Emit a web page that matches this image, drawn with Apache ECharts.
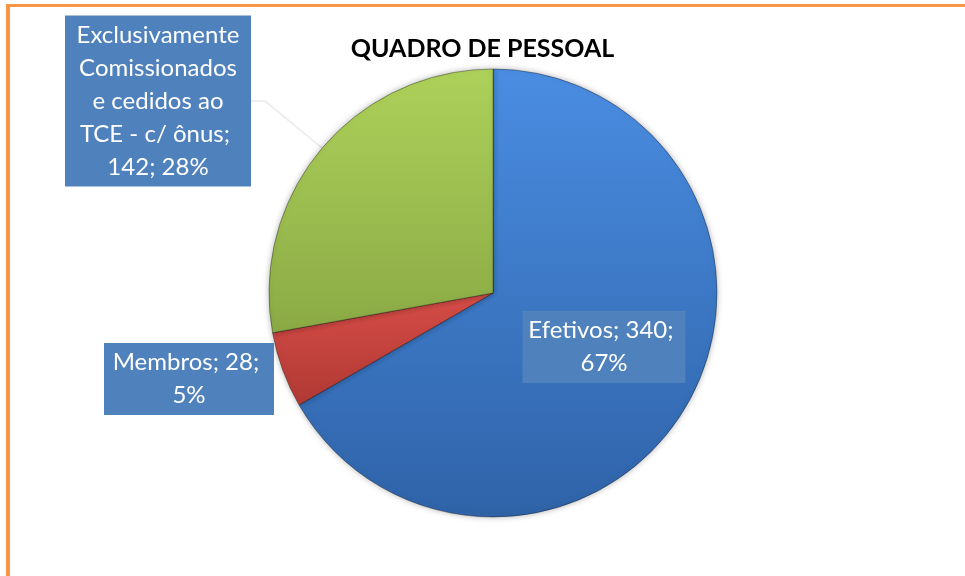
<!DOCTYPE html>
<html style="height: 100%">
<head>
    <meta charset="utf-8">
</head>
<body style="height: 100%; margin: 0; background: #fff">

<div style="position: absolute; left: 6px; top: 4px; right: 0; bottom: 0; border-top: 3px solid #F79646; border-left: 4px solid #F79646"></div>
<div id="container" style="position: absolute; left: 0; top: 0; width: 965px; height: 576px"></div>

<script type="text/javascript" src="https://cdn.jsdelivr.net/npm/echarts@6/dist/echarts.min.js"></script>
<script type="text/javascript">

    var categories = ['Efetivos', 'Membros', 'Exclusivamente\nComissionados\ne cedidos ao\nTCE - c/ ônus'];
    var values = [340, 28, 142];

    // gradient per slice: top colour, bottom colour
    var sliceColors = [
        ['#4A8DE2', '#2F63A8'],
        ['#D64D47', '#B13934'],
        ['#ADD15A', '#8BAA45']
    ];

    // label box centres and widths (pixels)
    var labelPos = [
        {x: 604, y: 347, w: 155},
        {x: 189, y: 379, w: 162},
        {x: 158, y: 101, w: 178}
    ];

    var myChart = echarts.init(document.getElementById('container'));

    var data = categories.map(function (name, i) {
        return {
            name: name,
            value: values[i],
            itemStyle: {
                color: new echarts.graphic.LinearGradient(0, 0, 0, 1, [
                    {offset: 0, color: sliceColors[i][0]},
                    {offset: 1, color: sliceColors[i][1]}
                ])
            },
            label: {
                position: i === 0 ? 'inside' : 'outside',
                width: labelPos[i].w
            },
            labelLine: {
                show: i === 2
            }
        };
    });

    var option = {
        title: {
            text: 'QUADRO DE PESSOAL',
            left: 'center',
            top: 31,
            textStyle: {
                fontFamily: 'Lato',
                fontWeight: 'bold',
                fontSize: 25,
                color: '#000'
            }
        },
        series: [
            {
                type: 'pie',
                center: [493, 293],
                radius: 224,
                startAngle: 90,
                clockwise: true,
                percentPrecision: 0,
                animation: false,
                silent: true,
                itemStyle: {
                    borderColor: 'rgba(0,0,0,0.35)',
                    borderWidth: 1,
                    shadowBlur: 6,
                    shadowColor: 'rgba(0,0,0,0.3)'
                },
                label: {
                    formatter: '{b}; {c}; {d}%',
                    overflow: 'break',
                    align: 'center',
                    color: '#fff',
                    fontFamily: 'Lato',
                    fontSize: 24,
                    lineHeight: 33,
                    backgroundColor: '#4F81BD',
                    padding: [3, 4]
                },
                labelLine: {
                    lineStyle: {
                        color: '#eeeeee',
                        width: 2
                    }
                },
                labelLayout: function (params) {
                    var p = labelPos[params.dataIndex];
                    var res = {
                        x: p.x,
                        y: p.y,
                        align: 'center',
                        verticalAlign: 'middle'
                    };
                    if (params.dataIndex === 2) {
                        res.labelLinePoints = [[251, 101], [265, 101], [322, 148]];
                    }
                    return res;
                },
                data: data
            }
        ]
    };

    myChart.setOption(option);

</script>
</body>
</html>
